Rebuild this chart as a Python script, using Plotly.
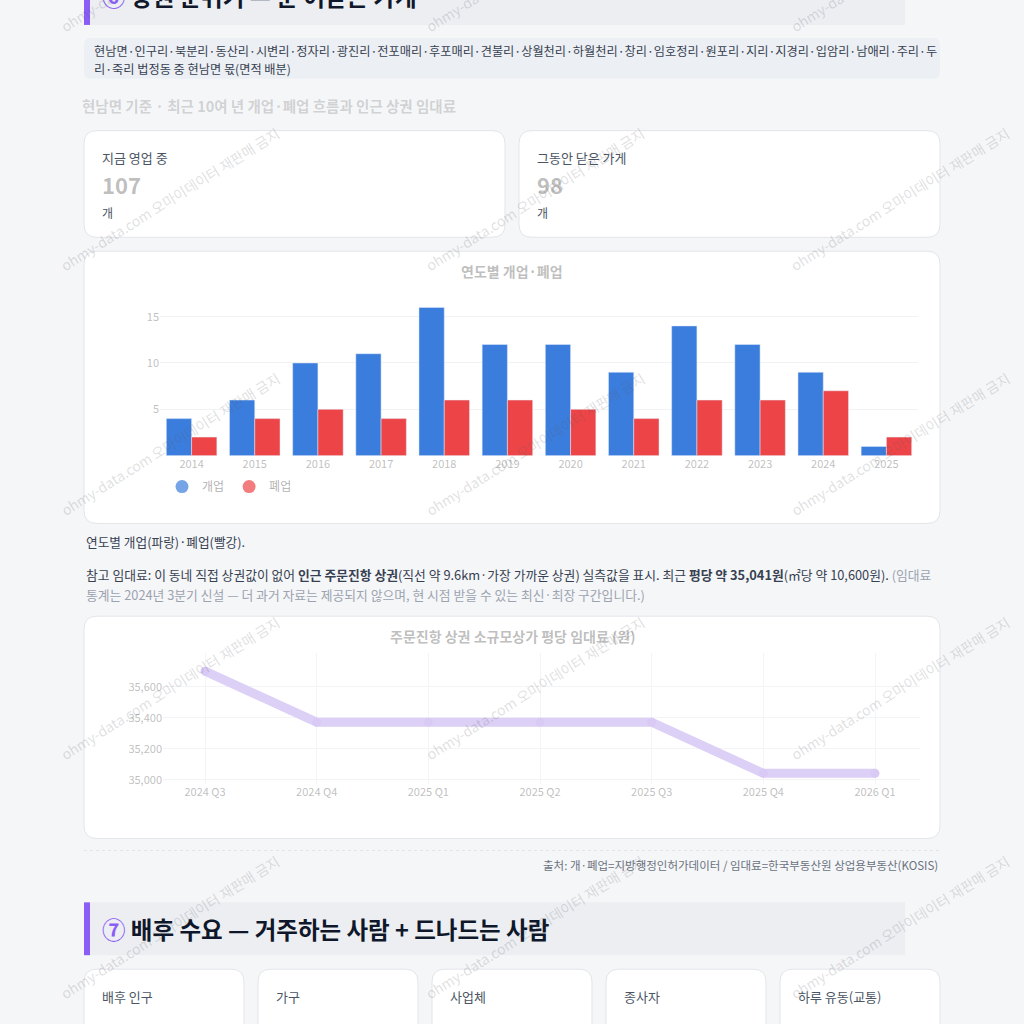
import plotly.graph_objects as go

# ---------------- data ----------------
years = ["2014", "2015", "2016", "2017", "2018", "2019", "2020", "2021", "2022", "2023", "2024", "2025"]
opened = [4, 6, 10, 11, 16, 12, 12, 9, 14, 12, 9, 1]
closed = [2, 4, 5, 4, 6, 6, 5, 4, 6, 6, 7, 2]

quarters = ["2024 Q3", "2024 Q4", "2025 Q1", "2025 Q2", "2025 Q3", "2025 Q4", "2026 Q1"]
rent_per_pyeong = [35702, 35372, 35372, 35372, 35372, 35041, 35041]

bar_ticks = [5, 10, 15]
rent_ticks = [35000, 35200, 35400, 35600]

dong_text = ("현남면·인구리·북분리·동산리·시변리·정자리·광진리·전포매리·후포매리·견불리·상월천리·하월천리·창리·임호정리·원포리·지리·지경리·입암리·남애리·주리·두",
             "리·죽리 법정동 중 현남면 몫(면적 배분)")
kpi_labels = ["지금 영업 중", "그동안 닫은 가게"]
kpi_values = ["107", "98"]
demand_labels = ["배후 인구", "가구", "사업체", "종사자", "하루 유동(교통)"]

W = H = 1024
FONT = "Noto Sans CJK KR, Noto Sans, sans-serif"


def px(x):
    return x / W


def py(y):
    return 1 - y / H


def rr(x0, y0, x1, y1, r):
    X0, X1 = px(x0), px(x1)
    rX = r / W
    Y0, Y1 = py(y0), py(y1)
    rY = r / H
    return (f"M {X0+rX},{Y0} L {X1-rX},{Y0} Q {X1},{Y0} {X1},{Y0-rY} "
            f"L {X1},{Y1+rY} Q {X1},{Y1} {X1-rX},{Y1} L {X0+rX},{Y1} "
            f"Q {X0},{Y1} {X0},{Y1+rY} L {X0},{Y0-rY} Q {X0},{Y0} {X0+rX},{Y0} Z")


fig = go.Figure()

BLUE = "#3b7ddd"
RED = "#ec4447"

fig.add_trace(go.Bar(x=years, y=opened, marker=dict(color=BLUE), name="개업",
                     showlegend=False, xaxis="x", yaxis="y"))
fig.add_trace(go.Bar(x=years, y=closed, marker=dict(color=RED), name="폐업",
                     showlegend=False, xaxis="x", yaxis="y"))
# legend markers (circles)
fig.add_trace(go.Scatter(x=[None], y=[None], mode="markers", name="개업",
                         marker=dict(color=BLUE, size=13, opacity=0.7), xaxis="x", yaxis="y"))
fig.add_trace(go.Scatter(x=[None], y=[None], mode="markers", name="폐업",
                         marker=dict(color=RED, size=13, opacity=0.7), xaxis="x", yaxis="y"))

xi = list(range(len(quarters)))
fig.add_trace(go.Scatter(x=xi, y=rent_per_pyeong, mode="lines+markers",
                         line=dict(color="#ddd0f6", width=9),
                         marker=dict(color="#d9caf5", size=9),
                         showlegend=False, xaxis="x2", yaxis="y2"))

shapes = []
# header band top
shapes.append(dict(type="rect", xref="paper", yref="paper", x0=px(84), x1=px(905), y0=py(-40), y1=py(25),
                   fillcolor="#eceef2", line=dict(width=0), layer="below"))
shapes.append(dict(type="rect", xref="paper", yref="paper", x0=px(84), x1=px(90), y0=py(-40), y1=py(25),
                   fillcolor="#8b5cf6", line=dict(width=0), layer="below"))
# dong box
shapes.append(dict(type="path", xref="paper", yref="paper", path=rr(84, 38, 940, 79, 7),
                   fillcolor="#eceff3", line=dict(width=0), layer="below"))
# KPI cards
for (a, b) in [(84, 505), (519, 940)]:
    shapes.append(dict(type="path", xref="paper", yref="paper", path=rr(a, 131, b, 238, 13),
                       fillcolor="white", line=dict(color="#e3e5ea", width=1), layer="below"))
# chart cards
shapes.append(dict(type="path", xref="paper", yref="paper", path=rr(84, 252, 940, 525, 13),
                   fillcolor="white", line=dict(color="#e3e5ea", width=1), layer="below"))
shapes.append(dict(type="path", xref="paper", yref="paper", path=rr(84, 618, 940, 841, 13),
                   fillcolor="white", line=dict(color="#e3e5ea", width=1), layer="below"))
# dashed separator
shapes.append(dict(type="line", xref="paper", yref="paper", x0=px(84), x1=px(940), y0=py(853), y1=py(853),
                   line=dict(color="#e2e4e8", width=1, dash="dot"), layer="below"))
# section 7 header
shapes.append(dict(type="rect", xref="paper", yref="paper", x0=px(84), x1=px(905), y0=py(905), y1=py(958),
                   fillcolor="#eceef2", line=dict(width=0), layer="below"))
shapes.append(dict(type="rect", xref="paper", yref="paper", x0=px(84), x1=px(90), y0=py(905), y1=py(958),
                   fillcolor="#8b5cf6", line=dict(width=0), layer="below"))
# demand cards
for i in range(5):
    a = 84 + i * 174
    shapes.append(dict(type="path", xref="paper", yref="paper", path=rr(a, 972, a + 160, 1090, 13),
                       fillcolor="white", line=dict(color="#e3e5ea", width=1), layer="below"))

ann = []


def text(x, y, s, size=13, color="#374151", anchor="left", bold=False, yanchor="middle"):
    if bold:
        s = "<b>" + s + "</b>"
    ann.append(dict(x=px(x), y=py(y), xref="paper", yref="paper", text=s, showarrow=False,
                    xanchor=anchor, yanchor=yanchor, align="left",
                    font=dict(size=size, color=color, family=FONT)))


# header 6 (cut at the top, as in the page)
text(100, -4, "<span style='color:#8b5cf6'>⑥</span> 상권 분위기 — 문 여닫은 가게", size=23.5, color="#0f172a", bold=True)
# dong lines
text(92, 51, dong_text[0], size=12.2, color="#374151")
text(92, 69, dong_text[1], size=12.2, color="#374151")
# soft intro line
text(80, 106, "현남면 기준 · 최근 10여 년 개업·폐업 흐름과 인근 상권 임대료", size=14.5, color="rgba(120,120,120,0.3)", bold=True)
# KPI cards
for (a, lab, val) in [(100, kpi_labels[0], kpi_values[0]), (535, kpi_labels[1], kpi_values[1])]:
    text(a, 158, lab, size=13, color="#4b5563")
    text(a, 185, val, size=22, color="rgba(110,110,110,0.45)", bold=True)
    text(a, 213, "개", size=12, color="#4b5563")
# chart titles (soft)
text(512, 272, "연도별 개업·폐업", size=14, color="rgba(110,110,110,0.45)", anchor="center", bold=True)
text(512, 638, "주문진항 상권 소규모상가 평당 임대료 (원)", size=14, color="rgba(110,110,110,0.45)",
     anchor="center", bold=True)
# caption
text(84, 543, "연도별 개업(파랑)·폐업(빨강).", size=12.7, color="#374151")
text(84, 576, "참고 임대료: 이 동네 직접 상권값이 없어 <b>인근 주문진항 상권</b>(직선 약 9.6km·가장 가까운 상권) 실측값을 표시. "
              "최근 <b>평당 약 35,041원</b>(㎡당 약 10,600원). <span style='color:#9ca3af'>(임대료</span>",
     size=12.8, color="#374151")
text(84, 596, "통계는 2024년 3분기 신설 — 더 과거 자료는 제공되지 않으며, 현 시점 받을 수 있는 최신·최장 구간입니다.)",
     size=12.8, color="#9ca3af")
# source
text(940, 868, "출처: 개·폐업=지방행정인허가데이터 / 임대료=한국부동산원 상업용부동산(KOSIS)", size=11.5,
     color="#6b7280", anchor="right")
# header 7
text(100, 932, "<span style='color:#8b5cf6'>⑦</span> 배후 수요 — 거주하는 사람 + 드나드는 사람", size=23.5,
     color="#0f172a", bold=True)
for i in range(5):
    a = 84 + i * 174
    text(a + 16, 999, demand_labels[i], size=13, color="#4b5563")

# watermarks
for sy in [35, 275, 520, 765, 1005]:
    for sx in [50, 415, 780]:
        ann.append(dict(x=px(sx + 120), y=py(sy - 75), xref="paper", yref="paper",
                        text="ohmy-data.com 오마이데이터 재판매 금지", showarrow=False, textangle=-32,
                        xanchor="center", yanchor="middle",
                        font=dict(size=14, color="rgba(90,90,100,0.2)", family=FONT)))

# line chart axis geometry
x_left, x_right = 163, 920
p0, p6 = 205, 875
scale = (p6 - p0) / 6
xr = [(x_left - p0) / scale, (x_right - p0) / scale]

fig.update_layout(
    width=W, height=H, margin=dict(l=0, r=0, t=0, b=0),
    paper_bgcolor="#f5f6f8", plot_bgcolor="rgba(0,0,0,0)",
    font=dict(family=FONT),
    hovermode=False,
    barmode="group", bargap=0.2, bargroupgap=0.0,
    shapes=shapes, annotations=ann,
    showlegend=True,
    legend=dict(orientation="h", x=px(162), y=py(488), xanchor="left", yanchor="middle",
                bgcolor="rgba(0,0,0,0)", font=dict(size=12, color="rgba(110,110,110,0.55)"),
                itemwidth=30),
    xaxis=dict(domain=[px(160), px(918)], type="category", showgrid=False, zeroline=False,
               showline=False, ticks="", tickfont=dict(size=11, color="rgba(110,110,110,0.45)"),
               anchor="y"),
    yaxis=dict(domain=[py(457), py(299)], range=[0, 17], tickvals=bar_ticks, showgrid=True,
               gridcolor="#f1f2f4", zeroline=False, showline=False,
               tickfont=dict(size=11, color="rgba(110,110,110,0.45)"), anchor="x"),
    xaxis2=dict(domain=[px(x_left), px(x_right)], range=xr, tickvals=xi, ticktext=quarters,
                showgrid=True, gridcolor="#f3f4f6", zeroline=False, showline=False, ticks="",
                tickfont=dict(size=11, color="rgba(110,110,110,0.45)"), anchor="y2"),
    yaxis2=dict(domain=[py(786), py(655)], range=[34974, 35819], tickvals=rent_ticks,
                tickformat=",", showgrid=True, gridcolor="#f3f4f6", zeroline=False, showline=False,
                tickfont=dict(size=11, color="rgba(110,110,110,0.45)"), anchor="x2"),
)

fig.write_html("out.html", config={"displayModeBar": False},
               post_script="document.body.style.margin='0';document.body.style.background='#f5f6f8';"
                           "document.documentElement.style.overflow='hidden';")
